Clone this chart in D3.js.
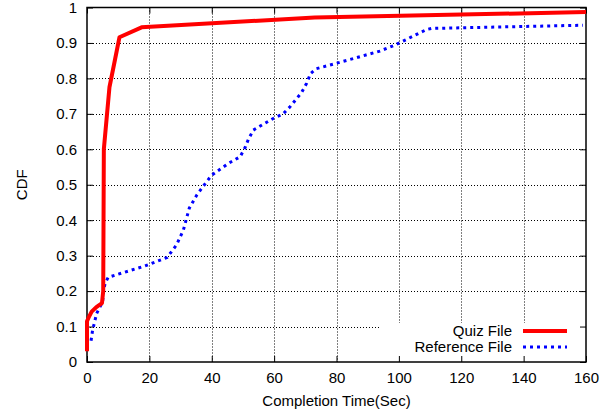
<!DOCTYPE html>
<html>
<head>
<meta charset="utf-8">
<title>CDF of completion time</title>
<script src="https://d3js.org/d3.v7.min.js"></script>
<style>
  body { margin: 0; background: #fff; }
  text { font-family: "Liberation Sans", Arial, sans-serif; font-size: 15px; fill: #000; }
</style>
</head>
<body>
<script>
// values: [seconds, cdf]
var quizFile = [[0, 0.03], [0, 0.115], [0.5, 0.125], [1.5, 0.142], [3, 0.155], [4.8, 0.166],
  [5.2, 0.2], [5.4, 0.6], [7.2, 0.775], [9, 0.854], [10.4, 0.916], [17.5, 0.944],
  [73, 0.972], [160, 0.987]];
var referenceFile = [[1.3, 0.06], [1.8, 0.09], [3.1, 0.137], [5, 0.17], [5.3, 0.2], [5.8, 0.222],
  [6.8, 0.239], [18.6, 0.271], [25.7, 0.295], [28.7, 0.33], [30.9, 0.372], [32.8, 0.434],
  [35.2, 0.471], [38.4, 0.509], [40, 0.527], [45.3, 0.56], [49.1, 0.579], [50.7, 0.605],
  [51.7, 0.627], [53.3, 0.654], [59.7, 0.687], [62.9, 0.70], [65.1, 0.72], [68.8, 0.76],
  [70.4, 0.786], [71.7, 0.814], [73.4, 0.827], [80.1, 0.843], [93.9, 0.877], [98.7, 0.894],
  [102, 0.908], [106.8, 0.929], [108.9, 0.938], [110.5, 0.941], [159, 0.95]];
var xTicks = [0, 20, 40, 60, 80, 100, 120, 140, 160];
var yTicks = [0, 0.1, 0.2, 0.3, 0.4, 0.5, 0.6, 0.7, 0.8, 0.9, 1];
var seriesNames = ["Quiz File", "Reference File"];

var w = 613, h = 414;
var pLeft = 87, pRight = 586, pTop = 7.5, pBottom = 362;

var svg = d3.select("body").append("svg")
  .attr("width", w)
  .attr("height", h);

var x = d3.scaleLinear().domain([0, 160]).range([pLeft, pRight]);
var y = d3.scaleLinear().domain([0, 1]).range([pBottom, pTop]);

// grid
svg.append("g").selectAll("line")
  .data(xTicks.slice(1, -1))
  .enter().append("line")
    .attr("x1", function(d) { return Math.round(x(d)) + 0.5; })
    .attr("x2", function(d) { return Math.round(x(d)) + 0.5; })
    .attr("y1", pTop).attr("y2", pBottom)
    .attr("stroke", "#000").attr("stroke-width", 1)
    .attr("stroke-dasharray", "1,2");
svg.append("g").selectAll("line")
  .data(yTicks.slice(1, -1))
  .enter().append("line")
    .attr("y1", function(d) { return Math.round(y(d)) + 0.5; })
    .attr("y2", function(d) { return Math.round(y(d)) + 0.5; })
    .attr("x1", pLeft).attr("x2", pRight)
    .attr("stroke", "#000").attr("stroke-width", 1)
    .attr("stroke-dasharray", "1,2");

// legend box hides the grid behind it
svg.append("rect")
  .attr("x", 380).attr("y", 323)
  .attr("width", pRight - 380).attr("height", pBottom - 323)
  .attr("fill", "#fff");

// axes, ticks inward and mirrored
var tick = 6;
svg.append("g").attr("transform", "translate(0," + pBottom + ")")
  .call(d3.axisBottom(x).tickValues(xTicks).tickSizeInner(-tick).tickSizeOuter(0).tickPadding(10));
svg.append("g").attr("transform", "translate(0," + pTop + ")")
  .call(d3.axisTop(x).tickValues(xTicks).tickSizeInner(-tick).tickSizeOuter(0).tickFormat(""));
svg.append("g").attr("transform", "translate(" + pLeft + ",0)")
  .call(d3.axisLeft(y).tickValues(yTicks).tickSizeInner(-tick).tickSizeOuter(0).tickPadding(10)
    .tickFormat(function(d) { return String(+d.toFixed(1)); }));
svg.append("g").attr("transform", "translate(" + pRight + ",0)")
  .call(d3.axisRight(y).tickValues(yTicks).tickSizeInner(-tick).tickSizeOuter(0).tickFormat(""));

svg.selectAll(".domain").remove();
svg.selectAll(".tick line").attr("stroke", "#000").attr("stroke-width", 1);
svg.selectAll(".tick text").attr("font-size", 16).attr("font-family", null).attr("fill", "#000");

svg.append("rect")
  .attr("x", pLeft).attr("y", pTop)
  .attr("width", pRight - pLeft).attr("height", pBottom - pTop)
  .attr("fill", "none").attr("stroke", "#000").attr("stroke-width", 1.5);

// curves
var line = d3.line()
  .x(function(d) { return x(d[0]); })
  .y(function(d) { return y(d[1]); });

svg.append("path").datum(referenceFile)
  .attr("d", line)
  .attr("fill", "none").attr("stroke", "#0000ff")
  .attr("stroke-width", 3).attr("stroke-dasharray", "3,4");

svg.append("path").datum(quizFile)
  .attr("d", line)
  .attr("fill", "none").attr("stroke", "#ff0000")
  .attr("stroke-width", 4).attr("stroke-linejoin", "round");

// legend
var legend = svg.append("g");
legend.selectAll("text")
  .data(seriesNames)
  .enter().append("text")
    .attr("x", 512)
    .attr("y", function(d, i) { return 336 + i * 16; })
    .attr("text-anchor", "end")
    .text(function(d) { return d; });
legend.append("line")
  .attr("x1", 523).attr("x2", 567).attr("y1", 331).attr("y2", 331)
  .attr("stroke", "#ff0000").attr("stroke-width", 4);
legend.append("line")
  .attr("x1", 523).attr("x2", 567).attr("y1", 347).attr("y2", 347)
  .attr("stroke", "#0000ff").attr("stroke-width", 3).attr("stroke-dasharray", "3,4");

// axis titles
svg.append("text")
  .attr("x", (pLeft + pRight) / 2).attr("y", 406)
  .attr("text-anchor", "middle")
  .attr("font-size", 15.8)
  .text("Completion Time(Sec)");
svg.append("text")
  .attr("transform", "translate(27," + (pTop + pBottom) / 2 + ") rotate(-90)")
  .attr("text-anchor", "middle")
  .text("CDF");
</script>
</body>
</html>
